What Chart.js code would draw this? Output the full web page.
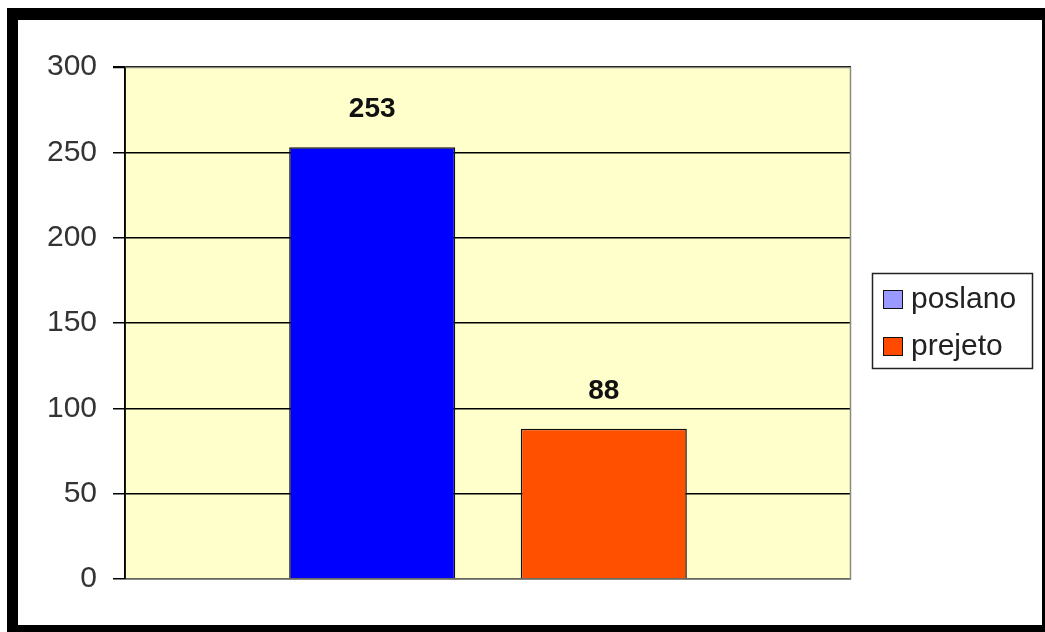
<!DOCTYPE html>
<html>
<head>
<meta charset="utf-8">
<script src="https://cdn.jsdelivr.net/npm/chart.js@4/dist/chart.umd.min.js"></script>
<style>
  html, body { margin: 0; padding: 0; background: #fff; }
  #frame {
    position: absolute; left: 7px; top: 8px;
    width: 1024px; height: 605px;
    border-style: solid; border-color: #000;
    border-width: 12px 3px 7px 11px;
    background: #fff;
  }
  canvas { display: block; }
</style>
</head>
<body>
<div id="frame"><canvas id="chart" width="1024" height="605"></canvas></div>
<script>
// data
const CATEGORIES = [''];
const SERIES_NAMES = ['poslano', 'prejeto'];
const POSLANO = [253];
const PREJETO = [88];
const Y_TICKS = [0, 50, 100, 150, 200, 250, 300];

const BAR_COLORS = ['#0000FF', '#FF5000'];
const LEGEND_COLORS = ['#9999FF', '#FF4A00'];
const FONT = "'Liberation Sans', Arial, sans-serif";

// ── plot background + plot frame ──────────
const plotArea = {
  id: 'plotArea',
  beforeDraw(chart) {
    const { ctx, chartArea: a } = chart;
    ctx.save();
    ctx.fillStyle = '#FFFFCC';
    ctx.fillRect(a.left, a.top, a.right - a.left, a.bottom - a.top);
    ctx.restore();
  },
  afterDraw(chart) {
    const { ctx, chartArea: a } = chart;
    ctx.save();
    ctx.strokeStyle = '#8a8a80';
    ctx.lineWidth = 1.5;
    ctx.beginPath();
    ctx.moveTo(a.left, a.top + 0.5);
    ctx.lineTo(a.right - 0.5, a.top + 0.5);
    ctx.lineTo(a.right - 0.5, a.bottom);
    ctx.lineTo(a.left, a.bottom);
    ctx.stroke();
    ctx.strokeStyle = '#000';
    ctx.lineWidth = 1.5;
    ctx.beginPath();
    ctx.moveTo(a.left, a.top);
    ctx.lineTo(a.left, a.bottom);
    ctx.moveTo(a.left - 12, a.top + 0.5);
    ctx.lineTo(a.left, a.top + 0.5);
    ctx.stroke();
    ctx.restore();
  }
};

// ── value labels above bars ───────────────
const valueLabels = {
  id: 'valueLabels',
  afterDatasetsDraw(chart) {
    const { ctx } = chart;
    ctx.save();
    ctx.font = `bold 28px ${FONT}`;
    ctx.fillStyle = '#111';
    ctx.textAlign = 'center';
    ctx.textBaseline = 'bottom';
    chart.data.datasets.forEach((ds, i) => {
      chart.getDatasetMeta(i).data.forEach((bar, j) => {
        ctx.fillText(String(ds.data[j]), bar.x, bar.y - 24);
      });
    });
    ctx.restore();
  }
};

// ── boxed legend on the right ─────────────
const boxLegend = {
  id: 'boxLegend',
  afterDraw(chart) {
    const { ctx } = chart;
    const x = 854, y = 253, w = 160, h = 95;
    ctx.save();
    ctx.fillStyle = '#fff';
    ctx.fillRect(x, y, w, h);
    ctx.strokeStyle = '#222';
    ctx.lineWidth = 1.5;
    ctx.strokeRect(x + 0.5, y + 0.5, w, h);
    ctx.font = `30px ${FONT}`;
    ctx.textBaseline = 'alphabetic';
    chart.data.datasets.forEach((ds, i) => {
      const sy = 270 + i * 47;
      ctx.fillStyle = LEGEND_COLORS[i];
      ctx.fillRect(865, sy, 19, 18);
      ctx.strokeStyle = '#111';
      ctx.lineWidth = 1;
      ctx.strokeRect(865.5, sy + 0.5, 19, 18);
      ctx.fillStyle = '#222';
      ctx.fillText(ds.label, 893, 288 + i * 47);
    });
    ctx.restore();
  }
};

new Chart(document.getElementById('chart').getContext('2d'), {
  type: 'bar',
  data: {
    labels: CATEGORIES,
    datasets: [
      { label: SERIES_NAMES[0], data: POSLANO, backgroundColor: BAR_COLORS[0], borderColor: '#111', borderWidth: 1.5 },
      { label: SERIES_NAMES[1], data: PREJETO, backgroundColor: BAR_COLORS[1], borderColor: '#111', borderWidth: 1.5 },
    ],
  },
  options: {
    responsive: false,
    animation: false,
    devicePixelRatio: 1,
    categoryPercentage: 0.638,
    barPercentage: 0.717,
    layout: { padding: { top: 47, bottom: 46, right: 191, left: 0 } },
    plugins: { legend: { display: false }, tooltip: { enabled: false } },
    scales: {
      x: { display: false },
      y: {
        min: 0, max: 300,
        afterBuildTicks: s => { s.ticks = Y_TICKS.map(v => ({ value: v })); },
        afterFit: s => { s.width = 107; },
        ticks: { padding: 16, color: '#333', font: { family: FONT, size: 30 } },
        grid: { color: '#000', lineWidth: 1.5, tickLength: 12 },
        border: { color: '#000', width: 1.5 },
      },
    },
  },
  plugins: [plotArea, valueLabels, boxLegend],
});
</script>
</body>
</html>
